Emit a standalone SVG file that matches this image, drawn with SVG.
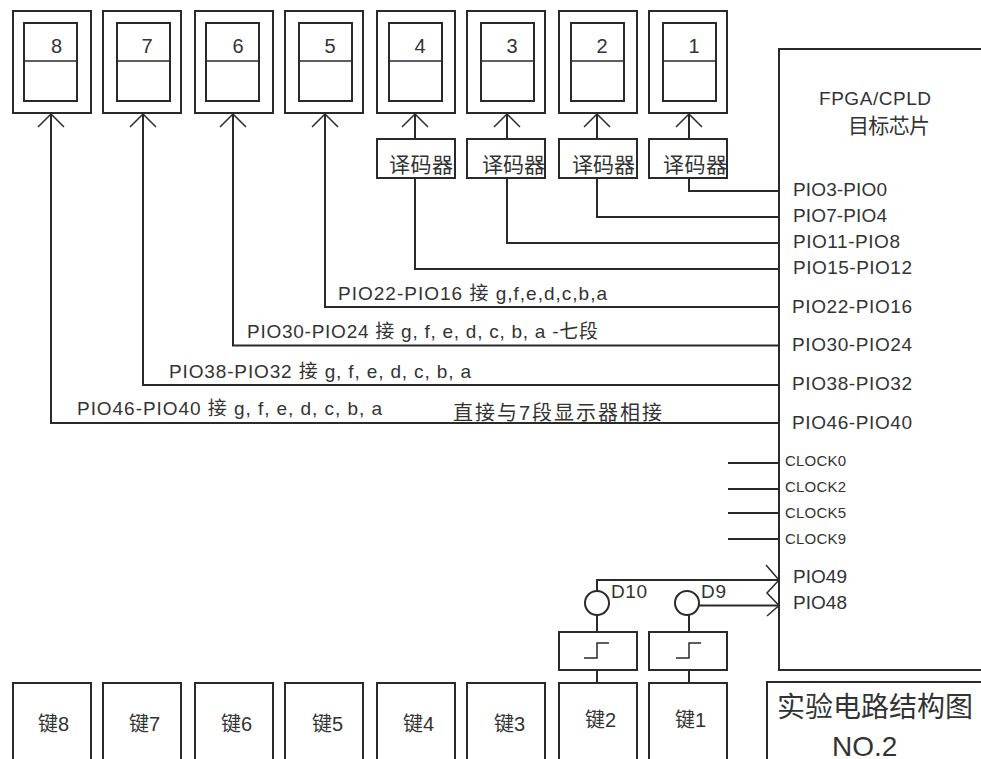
<svg xmlns="http://www.w3.org/2000/svg" width="981" height="759" viewBox="0 0 981 759">
<style>
text{font-family:"Liberation Sans","Noto Sans CJK SC",sans-serif;fill:#333;font-size:19px}
.b{fill:#fff;stroke:#2a2a2a;stroke-width:2}
.t{fill:none;stroke:#2a2a2a;stroke-width:1.5}
.l{fill:none;stroke:#2a2a2a;stroke-width:2}
.a{fill:none;stroke:#2a2a2a;stroke-width:1.5}
.m{text-anchor:middle;font-size:20px}
.c{font-size:15px}
.d{font-size:21px}
.k{font-size:20px}
</style>
<defs>
<rect id="outer" class="b" x="0" y="0" width="78" height="102"/>
<g id="inner"><rect class="b" x="0" y="12" width="53" height="78"/><path class="t" d="M0 50H53"/></g>
<path id="ah" class="a" d="M-13 13L0 0L13 13"/>
<path id="step" class="t" d="M-13 0H0V-15H12"/>
</defs>
<g id="chip"><path class="b" d="M981 49H779V670H981"/>
<text x="819" y="105" textLength="112">FPGA/CPLD</text><text class="d" x="848" y="133" textLength="82">目标芯片</text>
<text x="793" y="196" textLength="94">PIO3-PIO0</text><text x="793" y="222" textLength="94">PIO7-PIO4</text><text x="793" y="248" textLength="107">PIO11-PIO8</text><text x="793" y="274" textLength="119">PIO15-PIO12</text>
<text x="792" y="313" textLength="120">PIO22-PIO16</text><text x="792" y="351" textLength="120">PIO30-PIO24</text><text x="792" y="390" textLength="120">PIO38-PIO32</text><text x="792" y="429" textLength="120">PIO46-PIO40</text>
<text class="c" x="785" y="466" textLength="61">CLOCK0</text><text class="c" x="785" y="492" textLength="61">CLOCK2</text><text class="c" x="785" y="518" textLength="61">CLOCK5</text><text class="c" x="785" y="544" textLength="61">CLOCK9</text>
<text x="793" y="583" textLength="54">PIO49</text><text x="793" y="609" textLength="54">PIO48</text></g>
<g id="disp8"><use href="#outer" x="13" y="11"/><use href="#inner" x="24" y="11"/><text class="m" x="56.500" y="53">8</text></g>
<g id="disp7"><use href="#outer" x="103" y="11"/><use href="#inner" x="117" y="11"/><text class="m" x="147" y="53">7</text></g>
<g id="disp6"><use href="#outer" x="195" y="11"/><use href="#inner" x="206" y="11"/><text class="m" x="238" y="53">6</text></g>
<g id="disp5"><use href="#outer" x="285" y="11"/><use href="#inner" x="299" y="11"/><text class="m" x="330" y="53">5</text></g>
<g id="disp4"><use href="#outer" x="377" y="11"/><use href="#inner" x="389" y="11"/><text class="m" x="420" y="53">4</text></g>
<g id="disp3"><use href="#outer" x="467" y="11"/><use href="#inner" x="481" y="11"/><text class="m" x="512" y="53">3</text></g>
<g id="disp2"><use href="#outer" x="559" y="11"/><use href="#inner" x="571" y="11"/><text class="m" x="602" y="53">2</text></g>
<g id="disp1"><use href="#outer" x="649" y="11"/><use href="#inner" x="663" y="11"/><text class="m" x="694" y="53">1</text></g>
<g id="dec4"><rect class="b" x="377" y="139" width="78" height="39"/><text class="d" x="389" y="172" textLength="64">译码器</text></g>
<g id="dec3"><rect class="b" x="467" y="139" width="78" height="39"/><text class="d" x="482" y="172" textLength="63">译码器</text></g>
<g id="dec2"><rect class="b" x="559" y="139" width="78" height="39"/><text class="d" x="572" y="172" textLength="63">译码器</text></g>
<g id="dec1"><rect class="b" x="649" y="139" width="78" height="39"/><text class="d" x="663" y="172" textLength="64">译码器</text></g>
<g id="connectors">
<path class="l" d="M51 114V423H779M143 114V385H779M233 114V345.500H779M325 114V307H779M415 114V139M507 114V139M597 114V139M689 114V139M415 178V269H779M507 178V243H779M597 178V217H779M689 178V191H779"/>
<path class="l" d="M728 463H779M728 489H779M728 513H779M728 539H779M597 591V580H779M699 605.500H779M597 615V632M689 615V632M597 670V683M689 670V683"/>
<use href="#ah" x="51" y="114"/><use href="#ah" x="143" y="114"/><use href="#ah" x="233" y="114"/><use href="#ah" x="325" y="114"/><use href="#ah" x="415" y="114"/><use href="#ah" x="507" y="114"/><use href="#ah" x="597" y="114"/><use href="#ah" x="689" y="114"/>
<path class="a" d="M766 565L779 580L767 593L779 605.500L767 616"/>
</g>
<g id="labels">
<text x="338" y="300" textLength="269">PIO22-PIO16 接 g,f,e,d,c,b,a</text>
<text x="247" y="338" textLength="351">PIO30-PIO24 接 g, f, e, d, c, b, a -七段</text>
<text x="169" y="378" textLength="302">PIO38-PIO32 接 g, f, e, d, c, b, a</text>
<text x="77" y="415" textLength="305">PIO46-PIO40 接 g, f, e, d, c, b, a</text>
<text class="k" x="453" y="420" textLength="209">直接与7段显示器相接</text>
</g>
<g id="d10"><circle class="b" cx="597" cy="603" r="12"/><text x="611" y="598" textLength="36">D10</text></g>
<g id="d9"><circle class="b" cx="687" cy="603" r="12"/><text x="701" y="598" textLength="25">D9</text></g>
<g id="sw2"><rect class="b" x="559" y="632" width="78" height="38"/><use href="#step" x="597" y="658"/></g>
<g id="sw1"><rect class="b" x="649" y="632" width="78" height="38"/><use href="#step" x="689" y="658"/></g>
<g id="key8"><path class="b" d="M13 760V683H91V760"/><text class="k" x="38" y="731">键8</text></g>
<g id="key7"><path class="b" d="M103 760V683H181V760"/><text class="k" x="129" y="731">键7</text></g>
<g id="key6"><path class="b" d="M195 760V683H273V760"/><text class="k" x="221" y="731">键6</text></g>
<g id="key5"><path class="b" d="M285 760V683H363V760"/><text class="k" x="312" y="731">键5</text></g>
<g id="key4"><path class="b" d="M377 760V683H455V760"/><text class="k" x="403" y="731">键4</text></g>
<g id="key3"><path class="b" d="M467 760V683H545V760"/><text class="k" x="494" y="731">键3</text></g>
<g id="key2"><path class="b" d="M559 760V683H637V760"/><text class="k" x="585" y="727">键2</text></g>
<g id="key1"><path class="b" d="M649 760V683H727V760"/><text class="k" x="675" y="727">键1</text></g>
<g id="title"><path class="b" d="M981 682H767V760"/><text x="777" y="717" style="font-size:28px">实验电路结构图</text><text x="832" y="756" style="font-size:28px">NO.2</text></g>
</svg>
